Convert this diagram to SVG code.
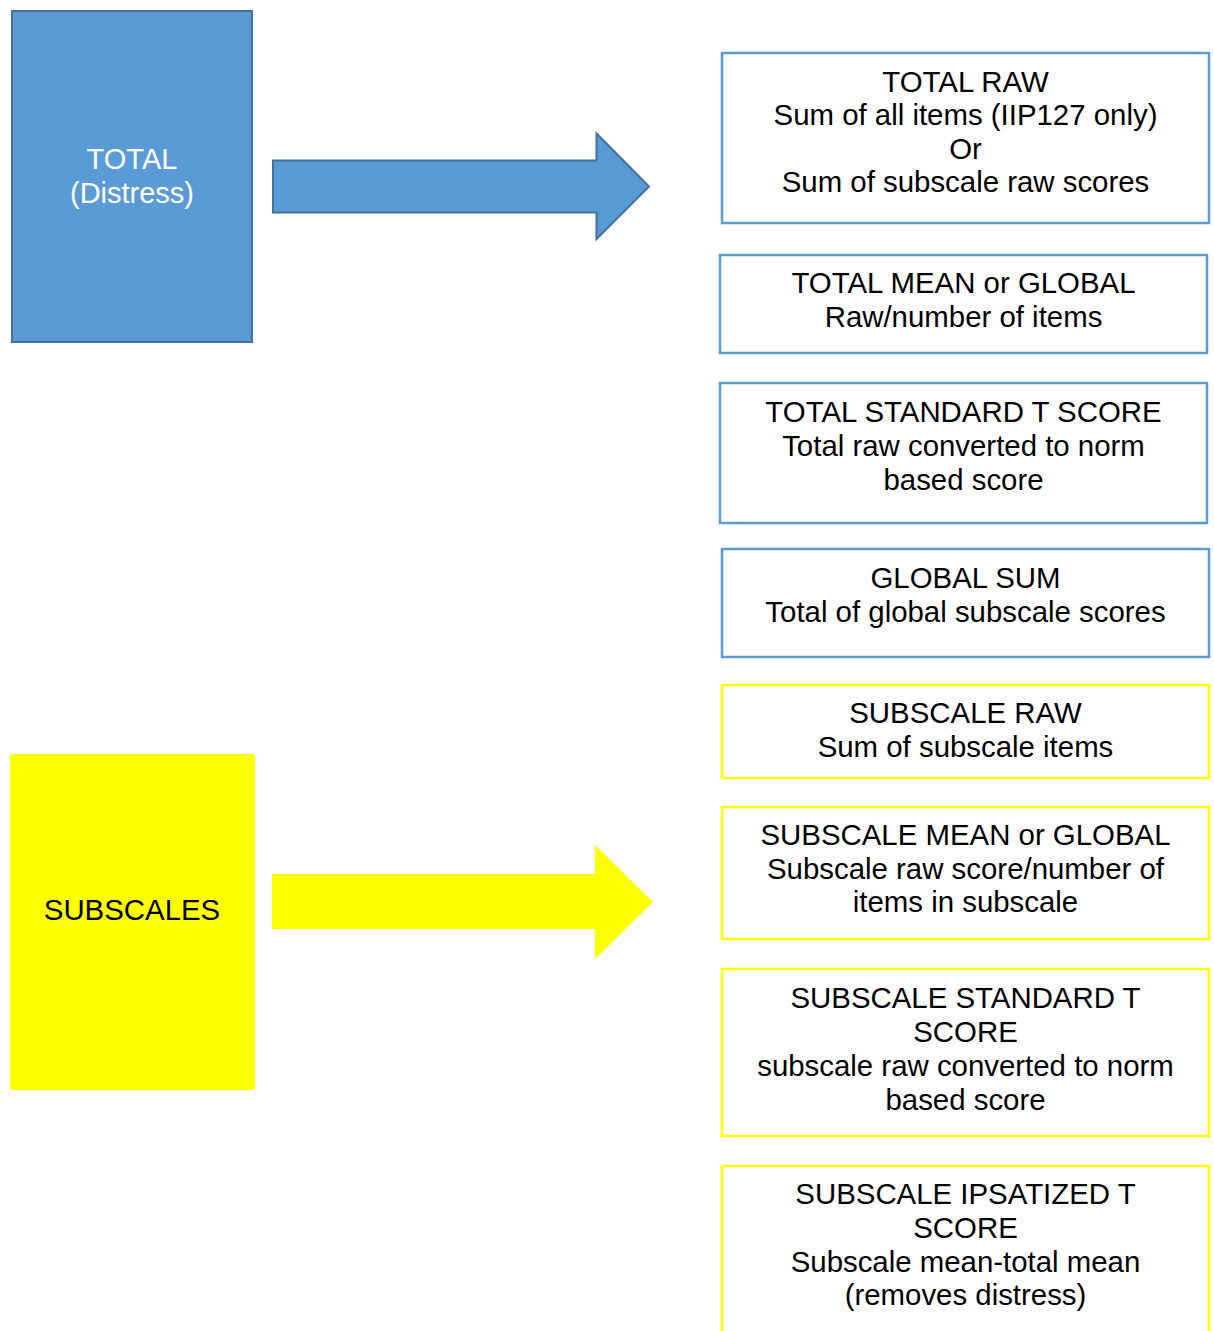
<svg xmlns="http://www.w3.org/2000/svg" width="1214" height="1331" viewBox="0 0 1214 1331">
  <style>
    text { font-family: "Liberation Sans", Arial, sans-serif; font-size: 29.4px; text-anchor: middle; fill: #000; }
    .src-total { fill: #5b9bd5; stroke: #41719c; stroke-width: 2; }
    .src-sub { fill: #ffff00; }
    .out-blue { fill: #fff; stroke: #5b9bd5; stroke-width: 2.5; }
    .out-yellow { fill: #fff; stroke: #ffff00; stroke-width: 2.5; }
    .lbl-white { fill: #fff; font-size: 29px; }
  </style>

  <!-- source: total distress -->
  <g id="total">
    <rect class="src-total" x="12" y="11" width="240" height="331"/>
    <text class="lbl-white" x="132" y="169">TOTAL</text>
    <text class="lbl-white" x="132" y="203">(Distress)</text>
  </g>

  <!-- source: subscales -->
  <g id="subscales">
    <rect class="src-sub" x="10" y="754" width="245" height="336" rx="3"/>
    <text x="132" y="920">SUBSCALES</text>
  </g>

  <!-- block arrows -->
  <g id="connectors">
    <path d="M273,160.5 L596.5,160.5 L596.5,133.5 L649,186.5 L596.5,239 L596.5,212.5 L273,212.5 Z" fill="#5b9bd5" stroke="#41719c" stroke-width="2"/>
    <path d="M272,874 L595,874 L595,845 L653,902 L595,959 L595,929 L272,929 Z" fill="#ffff00"/>
  </g>

  <!-- total-score outputs -->
  <g id="total-raw">
    <rect class="out-blue" x="722" y="53" width="487" height="170"/>
    <text x="965.5" y="92">TOTAL RAW</text>
    <text x="965.5" y="125">Sum of all items (IIP127 only)</text>
    <text x="965.5" y="159">Or</text>
    <text x="965.5" y="192">Sum of subscale raw scores</text>
  </g>
  <g id="total-mean">
    <rect class="out-blue" x="720" y="255" width="487" height="98"/>
    <text x="963.5" y="293">TOTAL MEAN or GLOBAL</text>
    <text x="963.5" y="327">Raw/number of items</text>
  </g>
  <g id="total-t">
    <rect class="out-blue" x="720" y="383" width="487" height="140"/>
    <text x="963.5" y="422">TOTAL STANDARD T SCORE</text>
    <text x="963.5" y="456">Total raw converted to norm</text>
    <text x="963.5" y="490">based score</text>
  </g>
  <g id="global-sum">
    <rect class="out-blue" x="722" y="549" width="487" height="108"/>
    <text x="965.5" y="588">GLOBAL SUM</text>
    <text x="965.5" y="622">Total of global subscale scores</text>
  </g>

  <!-- subscale outputs -->
  <g id="subscale-raw">
    <rect class="out-yellow" x="722" y="685" width="487" height="93"/>
    <text x="965.5" y="723">SUBSCALE RAW</text>
    <text x="965.5" y="757">Sum of subscale items</text>
  </g>
  <g id="subscale-mean">
    <rect class="out-yellow" x="722" y="807" width="487" height="132"/>
    <text x="965.5" y="845">SUBSCALE MEAN or GLOBAL</text>
    <text x="965.5" y="879">Subscale raw score/number of</text>
    <text x="965.5" y="912">items in subscale</text>
  </g>
  <g id="subscale-t">
    <rect class="out-yellow" x="722" y="969" width="487" height="167"/>
    <text x="965.5" y="1008">SUBSCALE STANDARD T</text>
    <text x="965.5" y="1042">SCORE</text>
    <text x="965.5" y="1076">subscale raw converted to norm</text>
    <text x="965.5" y="1110">based score</text>
  </g>
  <g id="subscale-ipsatized">
    <rect class="out-yellow" x="722" y="1166" width="487" height="180"/>
    <text x="965.5" y="1204">SUBSCALE IPSATIZED T</text>
    <text x="965.5" y="1238">SCORE</text>
    <text x="965.5" y="1272">Subscale mean-total mean</text>
    <text x="965.5" y="1305">(removes distress)</text>
  </g>
</svg>
